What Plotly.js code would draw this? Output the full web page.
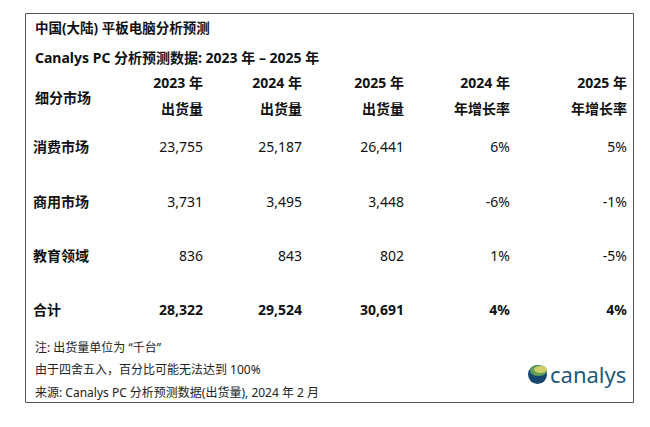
<!DOCTYPE html>
<html>
<head>
<meta charset="utf-8">
<script src="https://cdn.plot.ly/plotly-3.0.1.min.js"></script>
<style>
  body { margin: 0; background: #fff; }
  #myDiv { width: 650px; height: 427px; }
</style>
</head>
<body>
<div id="myDiv"></div>
<script>
// table data
var segments   = ['消费市场', '商用市场', '教育领域', '合计'];
var ship2023   = [23755, 3731, 836, 28322];
var ship2024   = [25187, 3495, 843, 29524];
var ship2025   = [26441, 3448, 802, 30691];
var growth2024 = [6, -6, 1, 4];
var growth2025 = [5, -1, -5, 4];

var headTop    = ['2023 年', '2024 年', '2025 年', '2024 年', '2025 年'];
var headBottom = ['出货量', '出货量', '出货量', '年增长率', '年增长率'];
var firstHead  = '细分市场';

var title    = '中国(大陆) 平板电脑分析预测';
var subtitle = 'Canalys PC 分析预测数据: 2023 年 – 2025 年';
var notes = [
  '注: 出货量单位为 “千台”',
  '由于四舍五入，百分比可能无法达到 100%',
  '来源: Canalys PC 分析预测数据(出货量), 2024 年 2 月'
];

// layout bits (pixel-like axis units)
var labelX = 33;
var colX   = [203, 302, 404, 510, 627];
var rowY   = [148, 203, 257, 311];
var headY  = [84, 110];
var FONT   = 'Segoe UI, "Noto Sans", "Noto Sans CJK SC", sans-serif';
var INK    = '#111111';

function fmt(n){ return n.toLocaleString('en-US'); }
function pct(n){ return n + '%'; }
function boldLast(arr){
  return arr.map(function(t, i){ return i === arr.length - 1 ? '<b>' + t + '</b>' : t; });
}

var columns = [
  ship2023.map(fmt), ship2024.map(fmt), ship2025.map(fmt),
  growth2024.map(pct), growth2025.map(pct)
];

var data = [];

// segment labels
data.push({
  type: 'scatter', mode: 'text',
  x: segments.map(function(){ return labelX; }),
  y: rowY,
  text: segments.map(function(s){ return '<b>' + s + '</b>'; }),
  textposition: 'middle right',
  textfont: {family: FONT, size: 14, color: INK},
  hoverinfo: 'skip', showlegend: false
});

// value columns
columns.forEach(function(col, c){
  data.push({
    type: 'scatter', mode: 'text',
    x: col.map(function(){ return colX[c]; }),
    y: rowY,
    text: boldLast(col),
    textposition: 'middle left',
    textfont: {family: FONT, size: 14, color: INK},
    hoverinfo: 'skip', showlegend: false
  });
});

// header rows
data.push({
  type: 'scatter', mode: 'text',
  x: colX.concat(colX),
  y: headTop.map(function(){ return headY[0]; }).concat(headBottom.map(function(){ return headY[1]; })),
  text: headTop.concat(headBottom).map(function(t){ return '<b>' + t + '</b>'; }),
  textposition: 'middle left',
  textfont: {family: FONT, size: 14, color: INK},
  hoverinfo: 'skip', showlegend: false
});

var annotations = [
  {x: labelX, y: 28, text: '<b>' + title + '</b>', font: {family: FONT, size: 13.5, color: INK}},
  {x: labelX, y: 57, text: '<b>' + subtitle + '</b>', font: {family: FONT, size: 14, color: INK}},
  {x: labelX, y: 97, text: '<b>' + firstHead + '</b>', font: {family: FONT, size: 14, color: INK}}
];
notes.forEach(function(n, i){
  annotations.push({x: labelX, y: 347 + i * 22.5, text: n, font: {family: FONT, size: 12, color: '#222'}});
});
annotations = annotations.map(function(a){
  a.xref = 'x'; a.yref = 'y'; a.xanchor = 'left'; a.yanchor = 'middle'; a.showarrow = false;
  return a;
});
// logo word
annotations.push({
  x: 548, y: 374, xref: 'x', yref: 'y', xanchor: 'left', yanchor: 'middle', showarrow: false,
  text: 'canalys', font: {family: '"Noto Sans", "Open Sans", sans-serif', size: 22, color: '#1d5a78'}
});

var layout = {
  width: 650, height: 427,
  margin: {l: 0, r: 0, t: 0, b: 0},
  paper_bgcolor: '#fff', plot_bgcolor: '#fff',
  xaxis: {range: [0, 650], visible: false, fixedrange: true},
  yaxis: {range: [427, 0], visible: false, fixedrange: true},
  annotations: annotations,
  shapes: [
    {type: 'rect', xref: 'x', yref: 'y', x0: 25.5, x1: 633.5, y0: 13.5, y1: 402.5,
     line: {color: '#555', width: 1}, fillcolor: 'rgba(0,0,0,0)'},
    // globe
    {type: 'circle', xref: 'x', yref: 'y', x0: 528, x1: 547, y0: 365, y1: 384,
     line: {width: 0}, fillcolor: '#14466e'},
    {type: 'circle', xref: 'x', yref: 'y', x0: 530, x1: 547, y0: 365, y1: 376,
     line: {width: 0}, fillcolor: '#5f9e58'},
    {type: 'circle', xref: 'x', yref: 'y', x0: 534, x1: 547, y0: 366, y1: 373,
     line: {width: 0}, fillcolor: '#cfd06a'}
  ]
};

Plotly.newPlot('myDiv', data, layout, {displayModeBar: false, staticPlot: true});
</script>
</body>
</html>
